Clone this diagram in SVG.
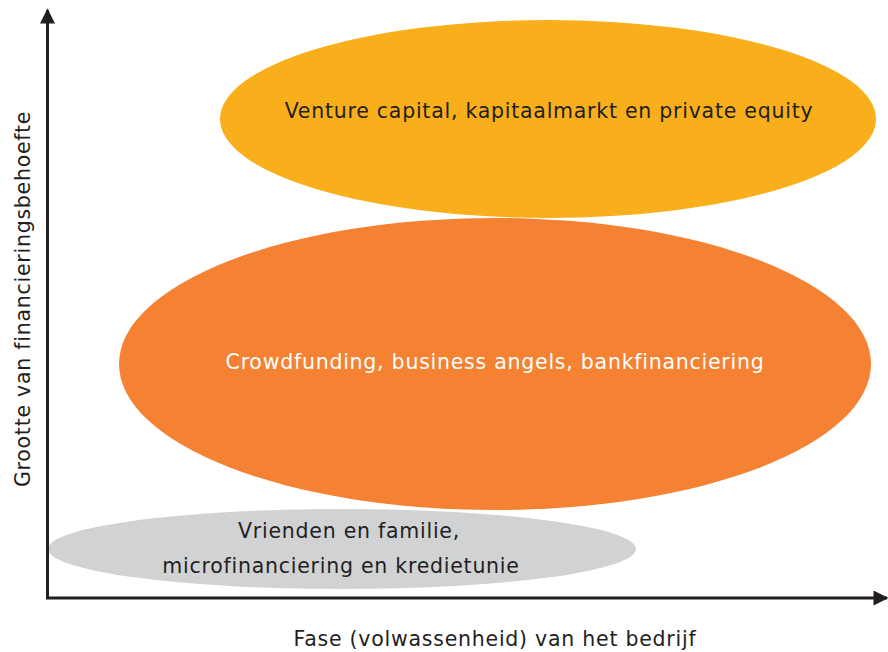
<svg xmlns="http://www.w3.org/2000/svg" width="888" height="652" viewBox="0 0 888 652">
  <style>
    .lbl { font-family: "DejaVu Sans", "Liberation Sans", sans-serif; font-size: 20.5px; letter-spacing: 0.75px; fill: #231F20; text-anchor: middle; }
    .light { fill: #FFFFFF; }
    .axis { stroke: #231F20; stroke-width: 3; fill: none; }
  </style>
  <defs>
    <marker id="arrow" viewBox="0 0 10 10" refX="9" refY="5" markerWidth="5.5" markerHeight="5" markerUnits="strokeWidth" orient="auto">
      <path d="M0,0 L10,5 L0,10 Z" fill="#231F20"/>
    </marker>
  </defs>
  <rect width="888" height="652" fill="#FFFFFF"/>

  <g id="node-venture">
    <ellipse cx="548" cy="119" rx="328" ry="99" fill="#F9AE1B"/>
    <text class="lbl" x="549" y="118">Venture capital, kapitaalmarkt en private equity</text>
  </g>

  <g id="node-crowdfunding">
    <ellipse cx="495" cy="364" rx="376" ry="146" fill="#F58233"/>
    <text class="lbl light" x="495" y="369">Crowdfunding, business angels, bankfinanciering</text>
  </g>

  <g id="node-vrienden">
    <ellipse cx="342" cy="549" rx="294" ry="40" fill="#D1D2D4"/>
    <text class="lbl" x="349" y="538">Vrienden en familie,</text>
    <text class="lbl" x="341" y="573">microfinanciering en kredietunie</text>
  </g>

  <g id="connectors">
    <path class="axis" d="M47.5,598 L47.5,10" marker-end="url(#arrow)"/>
    <path class="axis" d="M46,598 L887,598" marker-end="url(#arrow)"/>
  </g>

  <text class="lbl" x="495" y="646">Fase (volwassenheid) van het bedrijf</text>
  <text class="lbl" transform="translate(30,299) rotate(-90)">Grootte van financieringsbehoefte</text>
</svg>
